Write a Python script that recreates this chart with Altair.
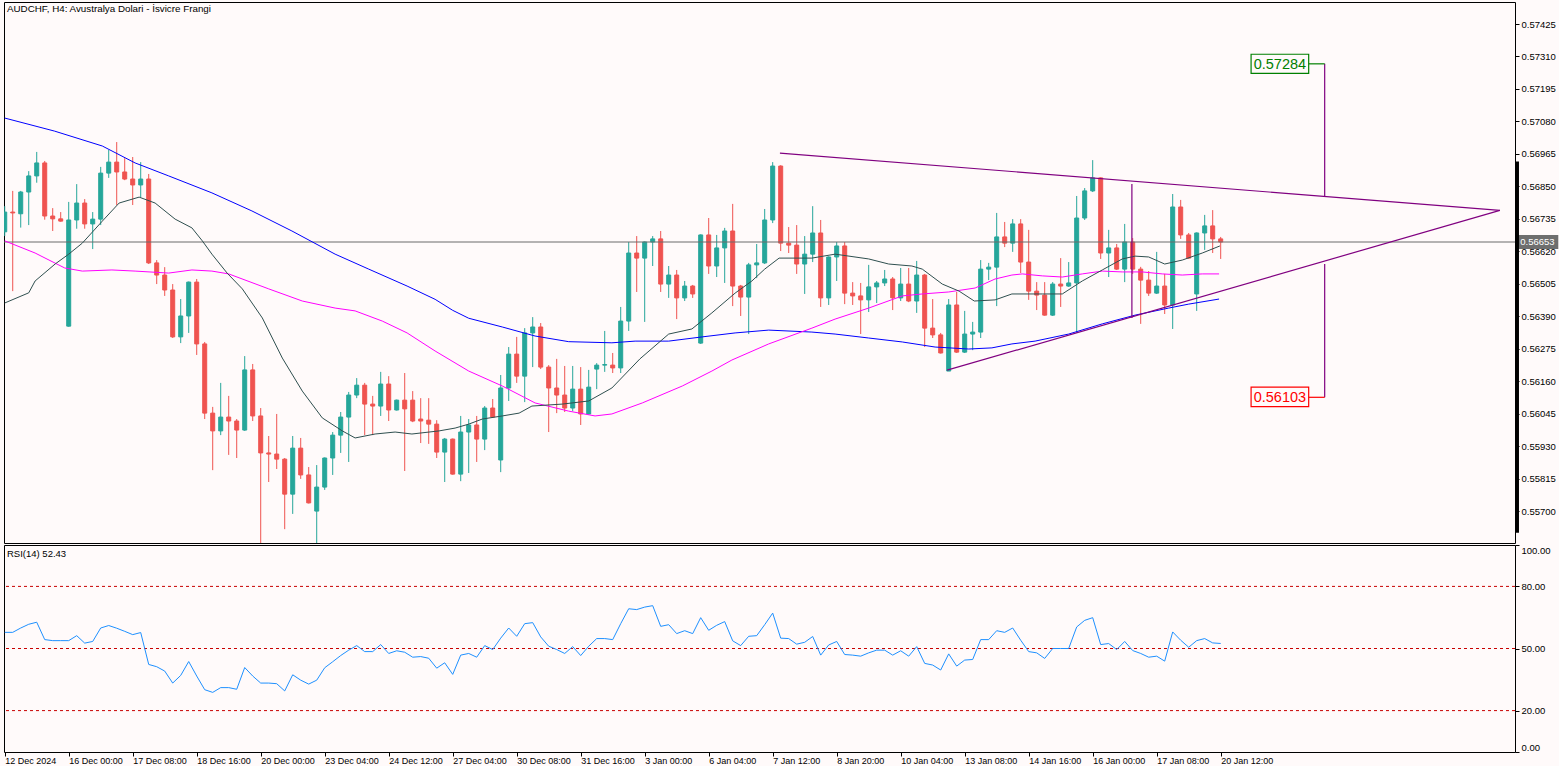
import altair as alt
import pandas as pd

TITLE = "AUDCHF, H4:  Avustralya Dolari - İsvicre Frangi"
RSI_TITLE = "RSI(14) 52.43"

OPEN = [0.56689, 0.56759, 0.56753, 0.56830, 0.56887, 0.56933, 0.56745, 0.56735, 0.56355, 0.56731,
        0.56791, 0.56717, 0.56734, 0.56897, 0.56936, 0.56901, 0.56876, 0.56855, 0.56876, 0.56579,
        0.56536, 0.56483, 0.56317, 0.56391, 0.56511, 0.56292, 0.56047, 0.55984, 0.56033, 0.56019,
        0.55987, 0.56200, 0.56037, 0.55906, 0.55902, 0.55884, 0.55760, 0.55923, 0.55828, 0.55700,
        0.55785, 0.55888, 0.55969, 0.56033, 0.56111, 0.56146, 0.56079, 0.56072, 0.56150, 0.56058,
        0.56093, 0.56093, 0.56026, 0.56022, 0.56008, 0.55909, 0.55955, 0.55831, 0.55980, 0.56005,
        0.55955, 0.56065, 0.55881, 0.56136, 0.56256, 0.56178, 0.56331, 0.56352, 0.56210, 0.56136,
        0.56111, 0.56065, 0.56132, 0.56044, 0.56203, 0.56217, 0.56217, 0.56207, 0.56373, 0.56614,
        0.56596, 0.56653, 0.56664, 0.56504, 0.56536, 0.56455, 0.56497, 0.56295, 0.56678, 0.56568,
        0.56632, 0.56692, 0.56497, 0.56458, 0.56572, 0.56579, 0.56731, 0.56922, 0.56649, 0.56642,
        0.56575, 0.56610, 0.56685, 0.56455, 0.56600, 0.56639, 0.56472, 0.56462, 0.56448, 0.56494,
        0.56508, 0.56522, 0.56455, 0.56504, 0.56444, 0.56536, 0.56348, 0.56324, 0.56196, 0.56430,
        0.56263, 0.56327, 0.56334, 0.56557, 0.56564, 0.56671, 0.56649, 0.56717, 0.56582, 0.56479,
        0.56465, 0.56394, 0.56504, 0.56497, 0.56508, 0.56738, 0.56834, 0.56880, 0.56614, 0.56632,
        0.56557, 0.56653, 0.56557, 0.56518, 0.56472, 0.56497, 0.56430, 0.56777, 0.56678, 0.56469,
        0.56685, 0.56710, 0.56664]
HIGH = [0.56780, 0.56834, 0.56834, 0.56904, 0.56972, 0.56940, 0.56773, 0.56759, 0.56795, 0.56858,
        0.56805, 0.56759, 0.56919, 0.56979, 0.57007, 0.56950, 0.56954, 0.56936, 0.56894, 0.56589,
        0.56564, 0.56504, 0.56451, 0.56513, 0.56522, 0.56299, 0.56069, 0.56154, 0.56108, 0.56026,
        0.56249, 0.56221, 0.56065, 0.55966, 0.56044, 0.55888, 0.55966, 0.55959, 0.55856, 0.55863,
        0.55890, 0.55980, 0.56051, 0.56122, 0.56171, 0.56154, 0.56108, 0.56193, 0.56178, 0.56095,
        0.56189, 0.56125, 0.56100, 0.56100, 0.56022, 0.55959, 0.55957, 0.56037, 0.56026, 0.56037,
        0.56072, 0.56097, 0.56182, 0.56281, 0.56317, 0.56348, 0.56387, 0.56366, 0.56217, 0.56239,
        0.56214, 0.56214, 0.56210, 0.56200, 0.56224, 0.56338, 0.56260, 0.56423, 0.56653, 0.56674,
        0.56655, 0.56674, 0.56692, 0.56568, 0.56554, 0.56515, 0.56501, 0.56680, 0.56738, 0.56678,
        0.56703, 0.56788, 0.56501, 0.56579, 0.56646, 0.56770, 0.56936, 0.56925, 0.56706, 0.56713,
        0.56674, 0.56780, 0.56731, 0.56602, 0.56653, 0.56653, 0.56511, 0.56508, 0.56572, 0.56515,
        0.56554, 0.56529, 0.56561, 0.56561, 0.56586, 0.56540, 0.56451, 0.56331, 0.56451, 0.56476,
        0.56409, 0.56370, 0.56589, 0.56579, 0.56756, 0.56724, 0.56734, 0.56734, 0.56696, 0.56511,
        0.56511, 0.56511, 0.56596, 0.56582, 0.56816, 0.56844, 0.56943, 0.56882, 0.56696, 0.56646,
        0.56717, 0.56667, 0.56565, 0.56550, 0.56618, 0.56540, 0.56823, 0.56802, 0.56685, 0.56687,
        0.56749, 0.56766, 0.56671]
LOW = [0.56674, 0.56479, 0.56704, 0.56713, 0.56863, 0.56732, 0.56692, 0.56725, 0.56353, 0.56700,
       0.56700, 0.56628, 0.56713, 0.56880, 0.56784, 0.56872, 0.56784, 0.56812, 0.56575, 0.56504,
       0.56462, 0.56313, 0.56295, 0.56331, 0.56253, 0.56026, 0.55845, 0.55969, 0.55899, 0.55888,
       0.55984, 0.56019, 0.55560, 0.55803, 0.55849, 0.55636, 0.55690, 0.55814, 0.55727, 0.55560,
       0.55775, 0.55828, 0.55906, 0.55874, 0.56100, 0.55969, 0.55969, 0.56037, 0.56019, 0.56056,
       0.55842, 0.56015, 0.55941, 0.55938, 0.55888, 0.55803, 0.55829, 0.55806, 0.55835, 0.55874,
       0.55916, 0.56030, 0.55838, 0.56090, 0.56154, 0.56086, 0.56210, 0.56203, 0.55980, 0.56047,
       0.56051, 0.56054, 0.56005, 0.56042, 0.56132, 0.56193, 0.56189, 0.56189, 0.56338, 0.56476,
       0.56370, 0.56568, 0.56476, 0.56455, 0.56380, 0.56444, 0.56455, 0.56292, 0.56540, 0.56529,
       0.56508, 0.56426, 0.56391, 0.56327, 0.56525, 0.56575, 0.56720, 0.56621, 0.56614, 0.56540,
       0.56469, 0.56582, 0.56423, 0.56430, 0.56515, 0.56433, 0.56430, 0.56327, 0.56405, 0.56437,
       0.56497, 0.56412, 0.56444, 0.56440, 0.56402, 0.56281, 0.56313, 0.56258, 0.56196, 0.56260,
       0.56260, 0.56270, 0.56313, 0.56518, 0.56426, 0.56635, 0.56618, 0.56543, 0.56448, 0.56412,
       0.56392, 0.56391, 0.56423, 0.56494, 0.56331, 0.56731, 0.56830, 0.56593, 0.56529, 0.56554,
       0.56511, 0.56540, 0.56363, 0.56462, 0.56469, 0.56398, 0.56345, 0.56664, 0.56594, 0.56409,
       0.56625, 0.56614, 0.56593]
CLOSE = [0.56759, 0.56756, 0.56830, 0.56887, 0.56933, 0.56745, 0.56735, 0.56727, 0.56731, 0.56791,
         0.56717, 0.56734, 0.56897, 0.56936, 0.56901, 0.56876, 0.56855, 0.56876, 0.56579, 0.56536,
         0.56483, 0.56317, 0.56391, 0.56511, 0.56292, 0.56047, 0.55984, 0.56033, 0.56019, 0.55987,
         0.56200, 0.56037, 0.55906, 0.55902, 0.55884, 0.55760, 0.55923, 0.55828, 0.55729, 0.55785,
         0.55888, 0.55969, 0.56033, 0.56111, 0.56146, 0.56079, 0.56072, 0.56150, 0.56058, 0.56093,
         0.56062, 0.56019, 0.56019, 0.56008, 0.55909, 0.55955, 0.55831, 0.55980, 0.56005, 0.55955,
         0.56065, 0.56033, 0.56136, 0.56256, 0.56178, 0.56331, 0.56352, 0.56210, 0.56136, 0.56111,
         0.56065, 0.56132, 0.56044, 0.56139, 0.56217, 0.56219, 0.56207, 0.56373, 0.56614, 0.56596,
         0.56653, 0.56664, 0.56504, 0.56536, 0.56455, 0.56497, 0.56469, 0.56678, 0.56568, 0.56632,
         0.56692, 0.56497, 0.56458, 0.56572, 0.56579, 0.56731, 0.56922, 0.56649, 0.56642, 0.56575,
         0.56610, 0.56685, 0.56455, 0.56600, 0.56639, 0.56472, 0.56462, 0.56448, 0.56494, 0.56508,
         0.56522, 0.56455, 0.56504, 0.56444, 0.56536, 0.56348, 0.56324, 0.56260, 0.56430, 0.56263,
         0.56327, 0.56334, 0.56557, 0.56564, 0.56671, 0.56649, 0.56717, 0.56582, 0.56479, 0.56465,
         0.56394, 0.56504, 0.56497, 0.56508, 0.56738, 0.56834, 0.56880, 0.56614, 0.56632, 0.56557,
         0.56653, 0.56557, 0.56518, 0.56472, 0.56497, 0.56430, 0.56777, 0.56678, 0.56596, 0.56685,
         0.56710, 0.56664, 0.56653]

RSI14 = [57.8, 57.8, 59.9, 61.7, 62.7, 54.3, 53.8, 53.8, 53.8, 56.2,
         52.6, 53.4, 59.9, 61.1, 59.8, 58.3, 56.7, 57.7, 42.3, 41.2,
         39.1, 33.3, 37.0, 43.7, 36.7, 30.1, 28.8, 31.1, 31.1, 30.3,
         40.8, 36.7, 33.3, 33.3, 33.0, 29.5, 37.3, 34.7, 32.8, 34.7,
         40.7, 43.6, 46.6, 49.2, 51.4, 48.5, 48.5, 51.9, 47.6, 48.9,
         48.2, 45.8, 46.1, 45.3, 40.5, 43.1, 37.5, 46.8, 47.6, 45.8,
         51.4, 49.5, 55.0, 59.9, 55.9, 62.0, 62.5, 55.6, 51.1, 49.5,
         47.6, 50.9, 46.6, 51.1, 54.8, 54.8, 54.3, 62.0, 69.2, 68.8,
         70.0, 70.7, 60.7, 61.5, 57.2, 58.6, 57.2, 64.9, 58.8, 61.2,
         63.0, 53.7, 51.4, 55.9, 56.2, 61.5, 67.1, 55.0, 54.8, 52.1,
         53.0, 55.8, 46.8, 51.7, 53.4, 47.1, 46.8, 46.3, 47.9, 49.2,
         49.2, 46.8, 48.9, 46.3, 50.9, 42.8, 42.0, 39.6, 47.4, 41.5,
         44.4, 44.7, 54.3, 54.3, 58.6, 57.8, 59.9, 54.0, 48.5, 47.9,
         45.2, 50.0, 50.0, 50.0, 60.4, 63.6, 64.9, 51.9, 52.4, 49.5,
         53.4, 49.0, 47.6, 45.8, 46.3, 43.9, 58.0, 54.0, 50.6, 53.8,
         54.8, 52.7, 52.43]

# moving averages (bar index, price)
MA_FAST_X = [0, 3, 3.8, 6.3, 8, 9.7, 12.2, 14.3, 16.8, 18.8, 21.3, 23.4, 24.7, 25.9, 27.8, 29.7,
             32.2, 34.7, 37.2, 39.7, 42.2, 43.8, 46.3, 48.8, 50.9, 54.3, 56.3, 58, 59.7, 62.2,
             64.3, 65.9, 69.7, 73, 75.9, 79.4, 83, 85.9, 88.4, 91.3, 93.4, 95, 96.8, 100.9, 103.8,
             108, 110.5, 113.4, 114.7, 117.2, 119.3, 121.2, 123.8, 125.9, 129.7, 132.2, 134.7,
             137.2, 139.7, 141.3, 143, 145, 147.2, 149.7, 151.9]
MA_FAST_Y = [0.56437, 0.56473, 0.56515, 0.56575, 0.56610, 0.56649, 0.56727, 0.56791, 0.56812,
             0.56791, 0.56734, 0.56703, 0.56657, 0.56610, 0.56543, 0.56487, 0.56384, 0.56242,
             0.56125, 0.56030, 0.55984, 0.55959, 0.55973, 0.55980, 0.55973, 0.55984, 0.55994,
             0.56008, 0.56026, 0.56037, 0.56047, 0.56072, 0.56079, 0.56090, 0.56136, 0.56239,
             0.56327, 0.56345, 0.56402, 0.56472, 0.56515, 0.56557, 0.56596, 0.56596, 0.56610,
             0.56593, 0.56575, 0.56568, 0.56557, 0.56504, 0.56479, 0.56444, 0.56448, 0.56469,
             0.56469, 0.56469, 0.56515, 0.56554, 0.56593, 0.56603, 0.56600, 0.56575, 0.56589,
             0.56614, 0.56639]
MA_MID_X = [0, 3.8, 7.5, 9.7, 13.4, 16.3, 20.5, 23.4, 25.9, 28, 33, 37.2, 41.3, 43.8, 47.2, 50.3,
            53.8, 58, 62.2, 66.3, 70.5, 73.8, 75.9, 79.7, 84.7, 88.4, 90.9, 95.5, 100.9, 103.8,
            108, 112.2, 114.7, 118, 121.3, 123.8, 125.9, 127.2, 129.7, 132.2, 134.7, 137.2,
            139.7, 142.2, 144.7, 147.2, 149.7, 151.8]
MA_MID_Y = [0.56657, 0.56614, 0.56561, 0.56550, 0.56554, 0.56550, 0.56543, 0.56554, 0.56550,
            0.56540, 0.56487, 0.56444, 0.56419, 0.56409, 0.56373, 0.56331, 0.56267, 0.56196,
            0.56143, 0.56083, 0.56054, 0.56037, 0.56044, 0.56083, 0.56143, 0.56196, 0.56235,
            0.56292, 0.56348, 0.56380, 0.56419, 0.56462, 0.56469, 0.56476, 0.56490, 0.56522,
            0.56536, 0.56540, 0.56533, 0.56529, 0.56540, 0.56550, 0.56547, 0.56547, 0.56540,
            0.56536, 0.56540, 0.56540]
MA_SLOW_X = [0, 6.2, 12.2, 16.3, 20.5, 25.9, 30.9, 35.9, 41.3, 45.5, 50.3, 53.8, 56, 58, 62.2,
             66.3, 70.5, 75.9, 78.8, 83, 87.2, 91.3, 95.5, 100.9, 103.8, 108, 112.2, 116.3,
             120.5, 123.4, 125.9, 128.8, 133, 137.2, 141.3, 145.5, 148, 151.8]
MA_SLOW_Y = [0.57092, 0.57046, 0.56993, 0.56933, 0.56887, 0.56827, 0.56763, 0.56692, 0.56610,
             0.56557, 0.56497, 0.56450, 0.56411, 0.56383, 0.56352, 0.56320, 0.56300, 0.56296,
             0.56302, 0.56302, 0.56317, 0.56331, 0.56341, 0.56334, 0.56327, 0.56313, 0.56299,
             0.56281, 0.56274, 0.56278, 0.56292, 0.56302, 0.56327, 0.56363, 0.56394, 0.56419,
             0.56433, 0.56451]

DATE_TICKS = [0, 8, 16, 24, 32, 40, 48, 56, 64, 72, 80, 88, 96, 104, 112, 120, 128, 136, 144, 152]
DATE_LABELS = ["12 Dec 2024", "16 Dec 00:00", "17 Dec 08:00", "18 Dec 16:00", "20 Dec 00:00",
               "23 Dec 04:00", "24 Dec 12:00", "27 Dec 04:00", "30 Dec 08:00", "31 Dec 16:00",
               "3 Jan 00:00", "6 Jan 04:00", "7 Jan 12:00", "8 Jan 20:00", "10 Jan 04:00",
               "13 Jan 08:00", "14 Jan 16:00", "16 Jan 00:00", "17 Jan 08:00", "20 Jan 12:00"]
PRICE_TICKS = [0.57425, 0.57310, 0.57195, 0.57080, 0.56965, 0.56850, 0.56735, 0.56620,
               0.56505, 0.56390, 0.56275, 0.56160, 0.56045, 0.55930, 0.55815, 0.55700]
RSI_TICKS = [0, 20, 50, 80, 100]
RSI_LEVELS = [80, 50, 20]
LAST_PRICE = 0.56653
LAST_LABEL = "0.56653"

# triangle pattern drawing: segments (bar index, price)
SEG_X1 = [96.9, 117.8, 140.9, 165.0, 165.0, 163.0, 163.0]
SEG_Y1 = [0.56968, 0.56199, 0.56858, 0.57284, 0.56575, 0.57284, 0.56103]
SEG_X2 = [186.9, 186.9, 140.9, 165.0, 165.0, 165.0, 165.0]
SEG_Y2 = [0.56765, 0.56765, 0.56384, 0.56816, 0.56103, 0.57284, 0.56103]
SEG_COLOR = ["#800080", "#800080", "#800080", "#800080", "#800080", "#008000", "#ff0000"]

TARGET_TEXT = ["0.57284", "0.56103"]
TARGET_PRICE = [0.57284, 0.56103]
TARGET_BOX_X1 = [155.8, 155.8]
TARGET_BOX_X2 = [163.0, 163.0]
TARGET_BOX_Y1 = [0.57318, 0.56139]
TARGET_BOX_Y2 = [0.57250, 0.56070]
TARGET_COLOR = ["#008000", "#ff0000"]

TAG_X1, TAG_X2 = 189.0, 194.2
TAG_Y1, TAG_Y2 = 0.56678, 0.56628
RANGE_BAR = [0.56938, 0.55623]

BG = "#fffafa"
UP = "#26a69a"
DOWN = "#ef5350"
FONT = "Liberation Sans"

W = 1511
H_MAIN = 541
H_RSI = 207

xs = alt.Scale(domain=[-0.09, 188.79], nice=False, zero=False, padding=0)
ys = alt.Scale(domain=[0.55587, 0.57503], nice=False, zero=False, padding=0)
rs = alt.Scale(domain=[0, 100], nice=False, zero=False, padding=0)

yax = alt.Axis(values=PRICE_TICKS, format=".5f", orient="right", tickSize=4, labelPadding=2,
               domain=False, grid=False, title=None, labelFont=FONT, labelFontSize=9.5,
               labelColor="black", tickColor="black", labelOverlap=False)

bars = pd.DataFrame({"k": list(range(len(OPEN))), "o": OPEN, "h": HIGH, "l": LOW, "c": CLOSE})
col = alt.condition("datum.c >= datum.o", alt.value(UP), alt.value(DOWN))

X = alt.X("k:Q", scale=xs, axis=None)

wicks = alt.Chart(bars).mark_rule(strokeWidth=1, clip=True).encode(
    x=X, y=alt.Y("l:Q", scale=ys, axis=yax), y2="h:Q", color=col)
bodies = alt.Chart(bars).mark_bar(size=4, strokeWidth=1, clip=True).encode(
    x=X, y=alt.Y("o:Q", scale=ys, axis=yax), y2="c:Q", fill=col, stroke=col)

last_df = pd.DataFrame({"p": [LAST_PRICE]})
last_line = alt.Chart(last_df).mark_rule(color="#6b6b6b", strokeWidth=1).encode(
    y=alt.Y("p:Q", scale=ys, axis=yax))


def ma_layer(xv, yv, color):
    df = pd.DataFrame({"k": xv, "p": yv})
    return alt.Chart(df).mark_line(color=color, strokeWidth=1, clip=True).encode(
        x=X, y=alt.Y("p:Q", scale=ys, axis=yax))


ma_fast = ma_layer(MA_FAST_X, MA_FAST_Y, "#2f4f4f")
ma_mid = ma_layer(MA_MID_X, MA_MID_Y, "#ff00ff")
ma_slow = ma_layer(MA_SLOW_X, MA_SLOW_Y, "#0000ff")

seg_df = pd.DataFrame({"x1": SEG_X1, "y1": SEG_Y1, "x2": SEG_X2, "y2": SEG_Y2, "col": SEG_COLOR})
segs = alt.Chart(seg_df).mark_rule(strokeWidth=1.2).encode(
    x=alt.X("x1:Q", scale=xs, axis=None), x2="x2:Q",
    y=alt.Y("y1:Q", scale=ys, axis=yax), y2="y2:Q",
    color=alt.Color("col:N", scale=None))

box_df = pd.DataFrame({"x1": TARGET_BOX_X1, "x2": TARGET_BOX_X2, "y1": TARGET_BOX_Y1,
                       "y2": TARGET_BOX_Y2, "col": TARGET_COLOR, "t": TARGET_TEXT,
                       "p": TARGET_PRICE})
boxes = alt.Chart(box_df).mark_rect(fill=BG, strokeWidth=1.2).encode(
    x=alt.X("x1:Q", scale=xs, axis=None), x2="x2:Q",
    y=alt.Y("y1:Q", scale=ys, axis=yax), y2="y2:Q",
    stroke=alt.Color("col:N", scale=None))
box_text = alt.Chart(box_df).mark_text(font=FONT, fontSize=14.5, align="center",
                                       baseline="middle", dy=1).encode(
    x=alt.X("xc:Q", scale=xs, axis=None), y=alt.Y("p:Q", scale=ys, axis=yax),
    text="t:N", color=alt.Color("col:N", scale=None)).transform_calculate(
    xc="(datum.x1 + datum.x2) / 2")

tag_df = pd.DataFrame({"x1": [TAG_X1], "x2": [TAG_X2], "y1": [TAG_Y1], "y2": [TAG_Y2],
                       "p": [LAST_PRICE], "t": [LAST_LABEL]})
tag = alt.Chart(tag_df).mark_rect(fill="#6e6e6e").encode(
    x=alt.X("x1:Q", scale=xs, axis=None), x2="x2:Q",
    y=alt.Y("y1:Q", scale=ys, axis=yax), y2="y2:Q")
tag_text = alt.Chart(tag_df).mark_text(font=FONT, fontSize=9.5, color="white", align="center",
                                       baseline="middle").encode(
    x=alt.X("xc:Q", scale=xs, axis=None), y=alt.Y("p:Q", scale=ys, axis=yax),
    text="t:N").transform_calculate(xc="(datum.x1 + datum.x2) / 2")

range_df = pd.DataFrame({"x": [189.1], "y1": [RANGE_BAR[0]], "y2": [RANGE_BAR[1]]})
range_bar = alt.Chart(range_df).mark_rule(strokeWidth=3, color="black").encode(
    x=alt.X("x:Q", scale=xs, axis=None), y=alt.Y("y1:Q", scale=ys, axis=yax), y2="y2:Q")

title_df = pd.DataFrame({"t": [TITLE]})
title = alt.Chart(title_df).mark_text(font=FONT, fontSize=9.8, align="left", baseline="middle",
                                      color="black").encode(
    x=alt.value(3), y=alt.value(7), text="t:N")

main = alt.layer(wicks, bodies, last_line, ma_slow, ma_mid, ma_fast, segs, boxes, box_text,
                 tag, tag_text, range_bar, title).properties(width=W, height=H_MAIN)

# RSI panel
label_expr = "[" + ",".join("'" + s + "'" for s in DATE_LABELS) + "][round(datum.value / 8)]"
xax = alt.Axis(values=DATE_TICKS, labelExpr=label_expr, orient="bottom", tickSize=4,
               labelAlign="left", labelBaseline="top", labelPadding=0, labelOffset=0,
               labelFont=FONT, labelFontSize=9, labelColor="black", tickColor="black",
               domain=False, grid=False, title=None, labelOverlap=False, labelBound=False,
               labelFlush=False)
rax = alt.Axis(values=RSI_TICKS, format=".2f", orient="right", tickSize=4, labelPadding=2,
               domain=False, grid=False, title=None, labelFont=FONT, labelFontSize=9.5,
               labelColor="black", tickColor="black", labelFlush=True, labelOverlap=False)

rsi_df = pd.DataFrame({"k": list(range(len(RSI14))), "r": RSI14})
lev_df = pd.DataFrame({"r": RSI_LEVELS})
levels = alt.Chart(lev_df).mark_rule(color="#c80000", strokeWidth=1, strokeDash=[3, 3]).encode(
    y=alt.Y("r:Q", scale=rs, axis=rax))
rsi_line = alt.Chart(rsi_df).mark_line(color="#1e90ff", strokeWidth=1).encode(
    x=alt.X("k:Q", scale=xs, axis=xax), y=alt.Y("r:Q", scale=rs, axis=rax))
rsi_title = alt.Chart(pd.DataFrame({"t": [RSI_TITLE]})).mark_text(
    font=FONT, fontSize=9.5, align="left", baseline="middle", color="black").encode(
    x=alt.value(3), y=alt.value(9), text="t:N")

rsi = alt.layer(levels, rsi_line, rsi_title).properties(width=W, height=H_RSI)

chart = alt.vconcat(main, rsi, spacing=0).properties(
    padding={"left": 2, "top": 1, "right": 0, "bottom": 0},
    background=BG,
).configure_view(stroke="black", strokeWidth=1)

chart.save("out.html", embed_options={"renderer": "svg", "actions": False})
